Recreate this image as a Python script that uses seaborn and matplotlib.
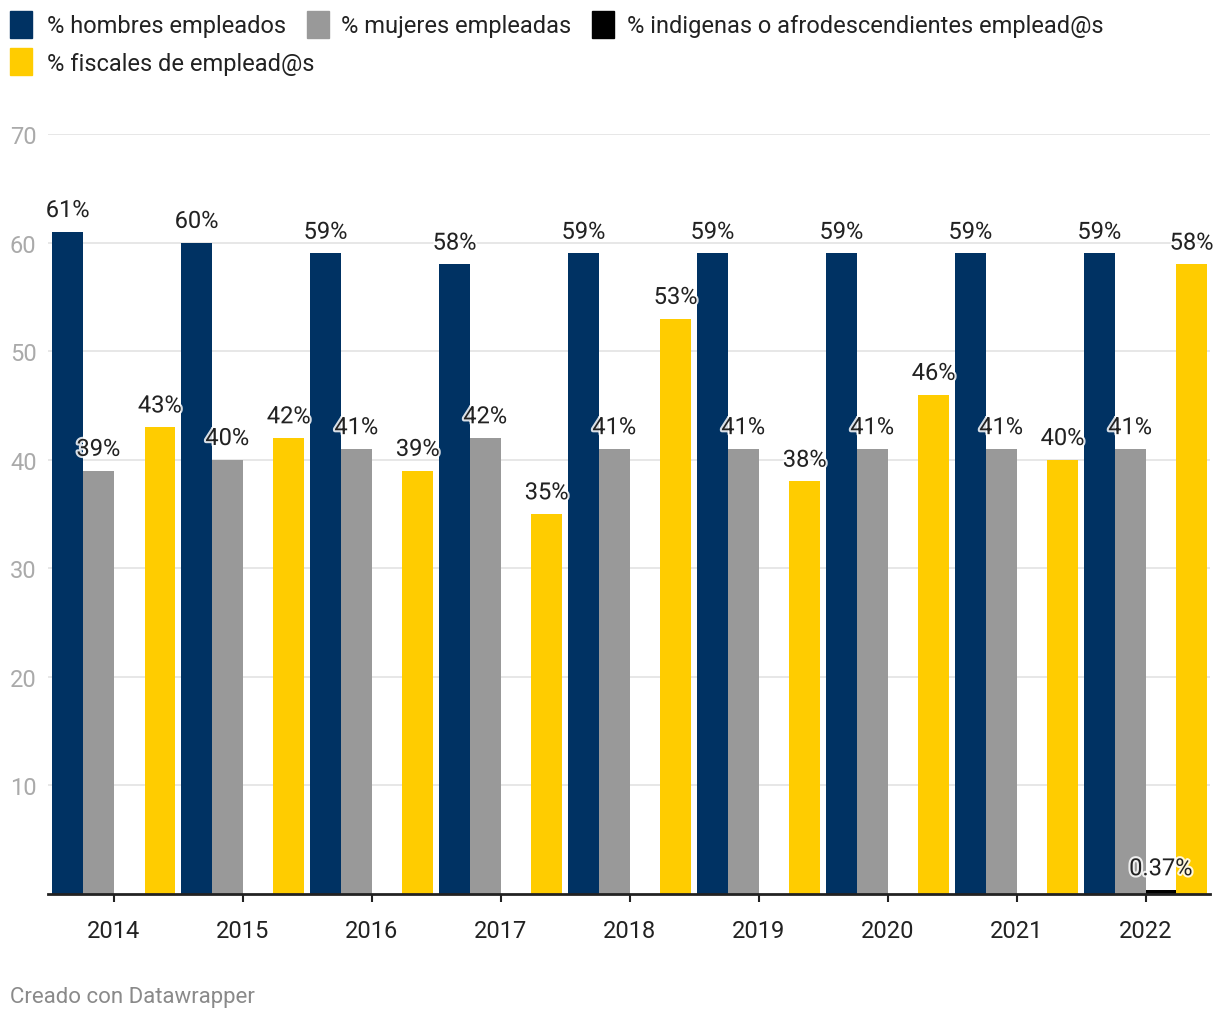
import numpy as np
import pandas as pd
import matplotlib.pyplot as plt
import matplotlib.patheffects as pe
from matplotlib.patches import Rectangle
import seaborn as sns

# data
years = ["2014", "2015", "2016", "2017", "2018", "2019", "2020", "2021", "2022"]
series = ["% hombres empleados", "% mujeres empleadas",
          "% indigenas o afrodescendientes emplead@s", "% fiscales de emplead@s"]
hombres = [61, 60, 59, 58, 59, 59, 59, 59, 59]
mujeres = [39, 40, 41, 42, 41, 41, 41, 41, 41]
indigenas = [np.nan] * 8 + [0.37]
fiscales = [43, 42, 39, 35, 53, 38, 46, 40, 58]
colors = ["#003263", "#999999", "#000000", "#ffcc00"]

rows = []
for s, vals in zip(series, [hombres, mujeres, indigenas, fiscales]):
    for y, v in zip(years, vals):
        if not np.isnan(v):
            rows.append({"year": y, "serie": s, "valor": v})
df = pd.DataFrame(rows)

sns.set_theme(style="white")
plt.rcParams["font.family"] = ["Roboto", "DejaVu Sans"]

W, H = 1220, 1020
fig = plt.figure(figsize=(W / 100, H / 100), dpi=100)
ax = fig.add_axes([48 / W, (H - 895) / H, (1210 - 48) / W, (895 - 135) / H])

sns.barplot(data=df, x="year", y="valor", hue="serie", order=years, hue_order=series,
            palette=colors, width=0.953, gap=0, saturation=1, errorbar=None,
            legend=False, ax=ax, linewidth=0)

halo = [pe.withStroke(linewidth=3, foreground="white", alpha=0.85)]
for cont in ax.containers:
    labels = [f"{b.get_height():g}%" if np.isfinite(b.get_height()) else "" for b in cont]
    txts = ax.bar_label(cont, labels=labels, padding=7, fontsize=17, color="#222222")
    for t in txts:
        t.set_path_effects(halo)

ax.set_xlim(-0.51, 8.5)
ax.set_ylim(0, 70)
ax.set_yticks([10, 20, 30, 40, 50, 60, 70])
ax.yaxis.grid(True, color="#e3e3e3", linewidth=1.2)
ax.set_axisbelow(True)
for side in ["top", "right", "left"]:
    ax.spines[side].set_visible(False)
ax.spines["bottom"].set_color("#222222")
ax.spines["bottom"].set_linewidth(2)
ax.spines["bottom"].set_zorder(5)
ax.tick_params(axis="y", length=0, pad=27.4, labelsize=17, labelcolor="#aaaaaa")
for lab in ax.get_yticklabels():
    lab.set_horizontalalignment("left")
ax.tick_params(axis="x", bottom=True, length=6, width=1.5, color="#222222",
               pad=12, labelsize=17, labelcolor="#222222")
ax.set_xlabel("")
ax.set_ylabel("")

# legend drawn by hand (two rows like the original)
legend_pos = [(10, 12, 47), (307, 12, 341), (592, 12, 627), (10, 49, 47)]
for (sx, sy, tx), name, c in zip(legend_pos, series, colors):
    fig.patches.append(Rectangle((sx / W, 1 - (sy + 27) / H), 22 / W, 27 / H,
                                 transform=fig.transFigure, color=c))
    fig.text(tx / W, 1 - (sy + 15) / H, name, fontsize=17, color="#222222", va="center")

fig.text(10 / W, 1 - 998 / H, "Creado con Datawrapper", fontsize=16,
         color="#8a8a8a", va="center")

fig.savefig("out.png", dpi=100, facecolor="white")
